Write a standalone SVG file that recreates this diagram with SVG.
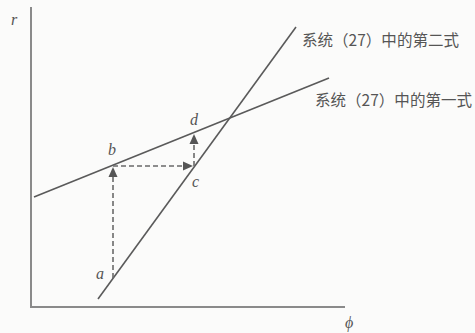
<svg xmlns="http://www.w3.org/2000/svg" width="475" height="333" viewBox="0 0 475 333">
<style>
.axis{stroke:#8a8a8a;stroke-width:2;fill:none}
.curve{stroke:#5a5a5a;stroke-width:1.6;fill:none}
.dash{stroke:#6a6a6a;stroke-width:1.6;stroke-dasharray:5 3;fill:none}
.lbl{font-family:"Liberation Serif",serif;font-style:italic;font-size:16px;fill:#555}
.cjk{font-family:"Noto Sans CJK SC",sans-serif;font-size:15.5px;fill:#555}
.head{fill:#555}
</style>
<rect width="475" height="333" fill="#fbfbfa"/>
<g id="axes">
<line class="axis" x1="31" y1="7" x2="31" y2="308"/>
<line class="axis" x1="30" y1="307" x2="345" y2="307"/>
<text class="lbl" x="11" y="25">r</text>
<text class="lbl" x="345" y="328">ϕ</text>
</g>
<g id="eq2">
<line class="curve" x1="98" y1="299" x2="296" y2="27"/>
<text class="cjk" x="302" y="46" textLength="157" lengthAdjust="spacingAndGlyphs">系统（27）中的第二式</text>
</g>
<g id="eq1">
<line class="curve" x1="34" y1="197" x2="329" y2="78"/>
<text class="cjk" x="315" y="106" textLength="157" lengthAdjust="spacingAndGlyphs">系统（27）中的第一式</text>
</g>
<g id="connectors">
<line class="dash" x1="113" y1="278" x2="113" y2="177"/>
<polygon class="head" points="113,167 108.5,177 117.5,177"/>
<line class="dash" x1="113" y1="166" x2="184" y2="166"/>
<polygon class="head" points="193,166 183,161.5 183,170.5"/>
<line class="dash" x1="194" y1="166" x2="194" y2="144"/>
<polygon class="head" points="194,134 189.5,144 198.5,144"/>
</g>
<g id="points">
<text class="lbl" x="96" y="279">a</text>
<text class="lbl" x="108" y="155">b</text>
<text class="lbl" x="192" y="187">c</text>
<text class="lbl" x="190" y="125">d</text>
</g>
</svg>
